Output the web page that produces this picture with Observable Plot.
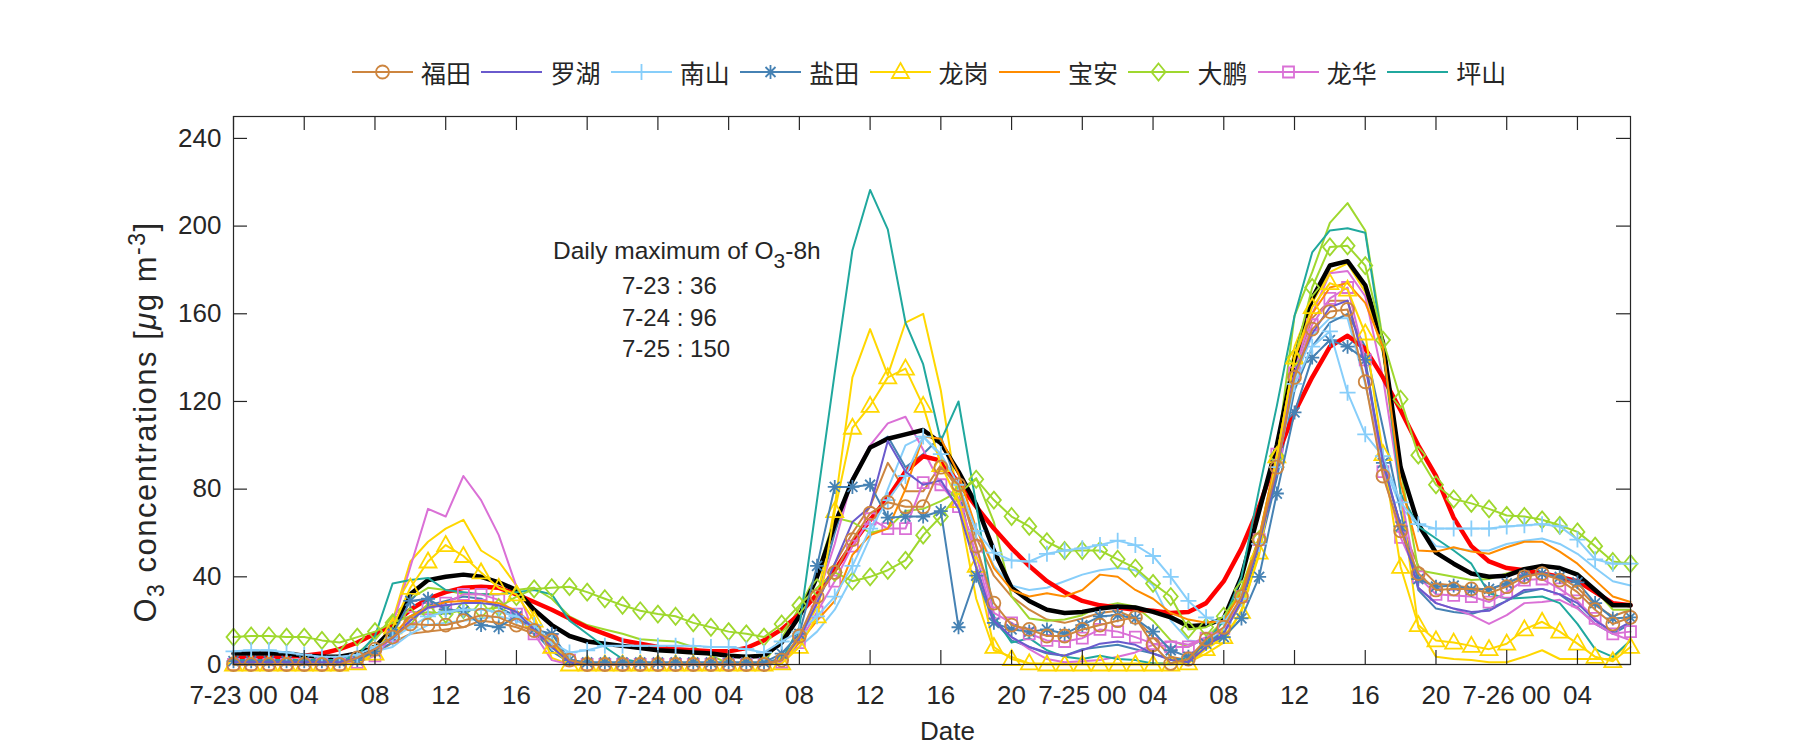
<!DOCTYPE html>
<html><head><meta charset="utf-8">
<script src="https://cdn.jsdelivr.net/npm/d3@7"></script>
<script src="https://cdn.jsdelivr.net/npm/@observablehq/plot@0.6"></script>
<style>
body{margin:0;background:#fff;}
#wrap{position:relative;width:1800px;height:750px;font-family:"Liberation Sans",Arial,sans-serif;color:#262626;}
#legend{position:relative;width:1800px;height:100px;}
.item{position:absolute;top:57px;height:30px;display:flex;align-items:center;}
.item span{font-family:"Noto Sans CJK SC",sans-serif;font-size:25px;margin-left:8px;color:#262626;}
</style></head>
<body><div id="wrap"><div id="legend"></div><div id="chart"></div></div>
<script>
// ---------- data (hourly, 7-23 00 .. 7-26 07) ----------
const xTickHours = [0,4,8,12,16,20,24,28,32,36,40,44,48,52,56,60,64,68,72,76];
const xTickLabels = ["7-23 00","04","08","12","16","20","7-24 00","04","08","12","16","20","7-25 00","04","08","12","16","20","7-26 00","04"];
const yTicks = [0,40,80,120,160,200,240];
const stationNames = ["福田","罗湖","南山","盐田","龙岗","宝安","大鹏","龙华","坪山"];
const annoTitle = "Daily maximum of O";
const annoLines = ["7-23 : 36","7-24 : 96","7-25 : 150"];

const futian = [0,0,0,0,0,0,0,3, 7,12.5,18.5,18,18,20,22.5,21.5, 18,15.5,11,2,0,0,0,0, 0,0,0,0,0,0,0,2, 13,31,42,57,69,74,72,72, 90,82,54,28,18,16,13,13, 16,18,20,21.5,9,0.5,2.5,11.5, 17,31,57,90,131,153,161,162, 129,86,61,41.5,34,34.5,34.5,32.5, 35.5,40,41.5,38.5,33,25,18.5,21.5];
const futian2 = [0,0,0,0,0,0,0,2, 5,10,14,15,16,17,20,19, 17,14,9,2,0,0,0,0, 0,0,0,0,0,0,0,2, 12.5,28,46,60,72,92,79,79, 91,80,58,40.5,31,25,20.5,19, 21,23.5,24.5,21,12.5,3.5,2,8, 15,30,55,88,135,158,166,166, 138,90,64,45,37,36,35,34, 37,41,42,40,35,27,22,25];
const luohu = [1,1,1,1,1,1,1,3, 7,12,20,26,27,28,28,27, 24,16,8,1,0,0,0,0, 0,0,0,0,0,0,0,2, 12,28,46,65,72,102,88,82, 84,71,44,20,12.5,8,5.5,4, 6.5,9.5,10.5,9,5,2,1,8, 14,29,55,88,133,151,163,166, 136,93,63,35,28,25.5,24,24.5, 29,34,34.5,32,28,20,15,19.5];
const nanshan = [6,6.5,6.5,5.5,4.5,3.5,3.5,4.5, 8,12,17,22,24,25,25,24, 22,18,10,5.5,6.5,8.5,8.5,8.5, 8.5,8.5,8.5,8,8,7,5.5,10.5, 15,22,31,45,62,75,86,104, 96,82,61,51,47.5,47,50.5,52, 53,54.5,56.5,54.5,49.5,40,29,21.5, 19,30,55,90,128,145,152,124, 105,95,74,64,62,62,62,62, 63,63.5,64,63,57,48,46,46];
const nanshan2 = [2,2,2,2,2,2,2,3, 6,8,14,18,19,20,21,22, 20,16,8,1,0.5,0.5,0.5,0.5, 0.5,0.5,0.5,0.5,0.5,0.5,0.5,3, 8,15,25,40,58,80,100,104, 95,80,62,45,36,34,35,38, 41,43,44,43,36,20,11,10, 16,30,55,90,130,150,158,158, 128,92,72,63,54,53,52,52, 55,56.5,57.5,55,50.5,44,38,36];
const yantian = [1.5,1.5,1.5,1.5,1.5,1.5,1.5,2, 6,14,29,30,25,24.5,18,17, 22,16,14,2,1,1,1,1, 1,1,1,1,1,1,1,5, 14,45,81,81,82,67,67.5,67.5, 70,17,40.5,19,16,15,16,14, 18,22,22.5,21,15,6.5,3.5,9.5, 12.5,21,40,78,115,140,148,145, 139,92,63,39,35.5,36,34,34.5, 37,40.5,41.5,40,37.5,28,21,21.5];
const yantian2 = [2,2,2,2,2,2,2,3, 6,10,22,27,29,31,30,26, 22,15,6,1,0.5,0.5,0.5,0.5, 0.5,0.5,0.5,0.5,0.5,0.5,0.5,3, 10,30,60,85,99,104,90,96, 104,80,45,20,11,8,5,4, 7,8,9,7,5,2.5,2.5,9.5, 15,28,52,85,125,145,156,160, 145,108,70,34,25.5,24,23,25.5, 29,33,34.5,32,26,18.5,14,18.5];
const longgang = [0,0,0,0,0,0,0,0.5, 5,17,35,47,54.5,49.5,42,35, 32,20,8,0,0,0,0,0, 0,0,0,0,0,0,0,0.5, 8,22,70,108,118,131,135,118, 91,74.5,45,8,2.5,0.5,0,0, 0,0,0,0,0,0,0.5,7, 12.5,24,51,95,140,163,174,171, 151,96,44.5,18,11,10,8.5,7, 9.5,16,19.5,15,9.5,3.5,1.5,8];
const longgang2 = [0,0,0,0,0,0,0,1, 6,20,47,56,62,66,52,47, 36,22,3,0,0,0,0,0, 0,0,0,0,0,0,0,1, 10,30,72,131,153,132,156,160, 125,73,30,6.5,3.5,0.5,0.5,0.5, 0.5,0.5,0.5,0.5,0.5,0.5,1,5, 10,25,50,95,145,165,179,183, 170,142,78,17,3.5,2.5,2,1, 1,3.5,6.5,2.5,2.5,2.5,2.5,11];
const baoan = [1,1,1,1,1,1,1,3, 7,13,22,26,28.5,29,29,28, 24.5,18,9,2,0.5,0.5,0.5,0.5, 0.5,0.5,0.5,0.5,0.5,0.5,0.5,2, 10,20,29,50,59,62,80,104, 103,87,62,44,34,31,32.5,31, 34,41,40,34,30,23.5,20.5,19, 20,33,58,95,140,160,172,174, 165,145,83,52,51.5,53.5,51.5,50.5, 53.5,56,56,51.5,46,38.5,31,28.5];
const dapeng = [12.5,13,13,12.5,12.5,11,10,12.5, 15,19,22,24,23,25,25,26, 31,34.5,35,35.5,33,30,27,24.5, 23,22,19,17,15,14,12.5,18.5, 27,35,42,38,40,43,47.5,59, 67.5,78,84.5,75,67.5,63,56,52, 52,52,48,44,37,31,16,17, 22,34,57,95,140,172,190.5,191, 182,148,121,95.5,82,75.5,73.5,71, 68,67.5,66,63.5,60.5,54,47,46];
const dapeng2 = [2,2,2,2,2,2,2,5, 12,22,30,35,34,32,32,32, 34,35,30,22,18,16,14,11.5, 11,10.5,8,4,0.5,0.5,1,12, 26,41.5,67,65,60,62,70,71, 74.5,79,85,65,31,21,20,20.5, 22.5,26.5,28,26.5,20,11,8,12, 20,35,58,96,159,179,201.5,210.5, 198,148,89,43,41.5,40,38.5,39, 41.5,44,44.5,44,41.5,34,25,25];
const longhua = [0,0,0,0,0,0,0,1, 4,13,21.5,25.5,28,32,32,29.5, 23,14,11,2,0,0,0,0, 0,0,0,0,0,0,0,1, 10,24,38,54,66.5,62,62,83, 82,72,54,23.5,19,14,11,10.5, 12,16,15,12.5,9.5,8,8,12, 16.5,31,57,96,133,155,167,172, 139,88,58,40,32,31.5,31,28.5, 33,38.5,39,34.5,29,21,14,15];
const longhua2 = [0,0,0,0,0,0,0,1, 5,18,44.5,71,67.5,86,75,59, 35.5,14,2,0,0,0,0,0, 0,0,0,0,0,0,0,1, 10,30,55,85,100,110,113,98, 82,76,50,20,12.5,7,2.5,1, 1.5,2,3.5,5.5,9,10.5,9,12.5, 16,30,55,92,135,160,178.5,179.5, 168,131,78,35,28,25.5,22.5,18.5, 22.5,28,28.5,29.5,25.5,18.5,14,11];
const pingshan = [2,2,2,2,2,2,2,4, 13,37,38.5,39.5,34,33,32,32, 33,34,32,20,14,8,2.5,1, 0.5,0.5,0.5,0.5,0.5,0.5,0.5,2, 17,75,133,189,216.5,198.5,156,137, 102,120,73,22,10,12,6.5,3.5, 2.5,4,2.5,2,0.5,0.5,3.5,10, 20,40,80,118,159,188,198,199, 197,145,78,63,57.5,52,46,32.5, 30,30.5,31,28,18.5,7,3.5,11];
const meanObs = [5,5,5,5,4,3.5,3.5,5, 8,16,32,38.5,40,41,40,37.5, 34,25,18,13,10.5,9.5,8.5,7.5, 6.5,6,5.5,5,4,3.5,4,10, 22,40,64,84,99,103,105,107, 101,88,73,52,35,29,25,23.5, 24,25.5,26.5,26,24,21.5,17.5,18, 21,40,70,100,139,167,182,184, 173,147,90,64,51,46,41.5,40, 40.5,43.5,45,44,41,34,27,27];
const model = [3,3,3,3.5,4,5,7,10, 14,18,25,30,33,35,35.5,35, 32,28.5,25,21,17,14,11,9.5, 8,7,6.5,6,6,7.5,11,16, 23,32,43,55,66,76,88,95, 93,83,72,62,53,45,38,33, 29,27,26,25,24.5,23.5,24,28, 38,53,72,95,115,131,145,150, 144,131,116,100,86,67,54,47, 44,43,41.5,40,38,33,28,27];

// ---------- marker shapes ----------
const shapes = {
  circle:{draw(c){c.moveTo(6.5,0);c.arc(0,0,6.5,0,2*Math.PI);}},
  triangle:{draw(c){c.moveTo(0,-9);c.lineTo(8.5,6);c.lineTo(-8.5,6);c.closePath();}},
  square:{draw(c){c.moveTo(-5.5,-5.5);c.lineTo(5.5,-5.5);c.lineTo(5.5,5.5);c.lineTo(-5.5,5.5);c.closePath();}},
  diamond:{draw(c){c.moveTo(0,-8.5);c.lineTo(7,0);c.lineTo(0,8.5);c.lineTo(-7,0);c.closePath();}},
  plus:{draw(c){c.moveTo(-8,0);c.lineTo(8,0);c.moveTo(0,-8);c.lineTo(0,8);}},
  star:{draw(c){c.moveTo(-7,0);c.lineTo(7,0);c.moveTo(0,-7);c.lineTo(0,7);c.moveTo(-5,-5);c.lineTo(5,5);c.moveTo(-5,5);c.lineTo(5,-5);}}
};

const C = {futian:"#CD853F",luohu:"#6A5ACD",nanshan:"#87CEFA",yantian:"#4682B4",longgang:"#FFD700",baoan:"#FF8C00",dapeng:"#9FD82E",longhua:"#DA70D6",pingshan:"#20A89E"};

const main = [
  {name:stationNames[0],values:futian,color:C.futian,shape:"circle"},
  {name:stationNames[1],values:luohu,color:C.luohu,shape:null},
  {name:stationNames[2],values:nanshan,color:C.nanshan,shape:"plus"},
  {name:stationNames[3],values:yantian,color:C.yantian,shape:"star"},
  {name:stationNames[4],values:longgang,color:C.longgang,shape:"triangle"},
  {name:stationNames[5],values:baoan,color:C.baoan,shape:null},
  {name:stationNames[6],values:dapeng,color:C.dapeng,shape:"diamond"},
  {name:stationNames[7],values:longhua,color:C.longhua,shape:"square"},
  {name:stationNames[8],values:pingshan,color:C.pingshan,shape:null}
];
const extra = [
  {values:futian2,color:C.futian},{values:nanshan2,color:C.nanshan},{values:yantian2,color:C.yantian},
  {values:longgang2,color:C.longgang},{values:dapeng2,color:C.dapeng},{values:longhua2,color:C.longhua}
];
const toRows = vals => vals.map((v,i)=>({h:i,v}));

const W=1800,H=650,mL=233,mR=170,mT=16,mB=86;
const innerW=W-mL-mR, innerH=H-mT-mB;
const FONT="'Liberation Sans',Arial,sans-serif";

const marks = [];
for (const s of extra) marks.push(Plot.line(toRows(s.values),{x:"h",y:"v",stroke:s.color,strokeWidth:2}));
marks.push(Plot.line(toRows(model),{x:"h",y:"v",stroke:"#FF0000",strokeWidth:4.5}));
marks.push(Plot.line(toRows(meanObs),{x:"h",y:"v",stroke:"#000000",strokeWidth:4.5}));
for (const s of [...main].reverse()) {
  marks.push(Plot.line(toRows(s.values),{x:"h",y:"v",stroke:s.color,strokeWidth:2}));
  if (s.shape) marks.push(Plot.dot(toRows(s.values),{x:"h",y:"v",stroke:s.color,fill:"none",strokeWidth:1.8,symbol:shapes[s.shape],r:6}));
}
marks.push(Plot.frame({stroke:"#262626",strokeWidth:1.2}));
marks.push(Plot.tickX(xTickHours,{x:d=>d,insetTop:innerH-14,stroke:"#262626",strokeWidth:1.2}));
marks.push(Plot.tickX(xTickHours,{x:d=>d,insetBottom:innerH-14,stroke:"#262626",strokeWidth:1.2}));
marks.push(Plot.tickY(yTicks,{y:d=>d,insetRight:innerW-14,stroke:"#262626",strokeWidth:1.2}));
marks.push(Plot.tickY(yTicks,{y:d=>d,insetLeft:innerW-14,stroke:"#262626",strokeWidth:1.2}));
marks.push(Plot.axisX(xTickHours,{tickSize:0,tickPadding:21,fontSize:26,tickFormat:d=>xTickLabels[xTickHours.indexOf(d)],label:null}));
marks.push(Plot.axisY(yTicks,{tickSize:0,tickPadding:12,fontSize:26,label:null}));

const plot = Plot.plot({
  width:W,height:H,marginLeft:mL,marginRight:mR,marginTop:mT,marginBottom:mB,
  x:{domain:[0,79]},y:{domain:[0,250]},
  style:{fontFamily:FONT,fontSize:"26px",color:"#262626",background:"#fff"},
  marks
});
document.getElementById("chart").appendChild(plot);

const svg = d3.select(plot);
const ns = svg.append("g").attr("fill","#262626").attr("font-family",FONT).attr("font-size",24).attr("text-anchor","start");
// x label
ns.append("text").attr("x",mL+innerW/2+16).attr("y",H-10).attr("text-anchor","middle").attr("font-size",26).text("Date");
// y label
const yl = ns.append("text").attr("transform",`translate(156,322) rotate(-90)`).attr("text-anchor","middle").attr("font-size",31).attr("letter-spacing",1.5);
yl.append("tspan").text("O");
yl.append("tspan").attr("font-size",23).attr("dy",8).text("3");
yl.append("tspan").attr("dy",-8).text(" concentrations [");
yl.append("tspan").attr("font-style","italic").text("\u03bc");
yl.append("tspan").text("g m");
yl.append("tspan").attr("font-size",23).attr("dy",-11).text("-3");
yl.append("tspan").attr("dy",11).text("]");
// annotation
const at = ns.append("text").attr("x",553).attr("y",159).attr("font-size",24.5);
at.append("tspan").text(annoTitle);
at.append("tspan").attr("font-size",21).attr("dy",9).text("3");
at.append("tspan").attr("dy",-9).text("-8h");
annoLines.forEach((t,i)=>ns.append("text").attr("x",622).attr("y",194+i*31.5).attr("font-size",24).text(t));

// legend
const leg = d3.select("#legend");
main.forEach((s,i)=>{
  const it = leg.append("div").attr("class","item").style("left",(352+i*129.4)+"px");
  const sv = it.append("svg").attr("width",61).attr("height",30);
  sv.append("line").attr("x1",0).attr("x2",61).attr("y1",15).attr("y2",15).attr("stroke",s.color).attr("stroke-width",2);
  if (s.shape){const p=d3.path();shapes[s.shape].draw(p);sv.append("path").attr("d",p.toString()).attr("transform","translate(30.5,15)").attr("fill","none").attr("stroke",s.color).attr("stroke-width",1.8);}
  it.append("span").text(s.name);
});
</script></body></html>
